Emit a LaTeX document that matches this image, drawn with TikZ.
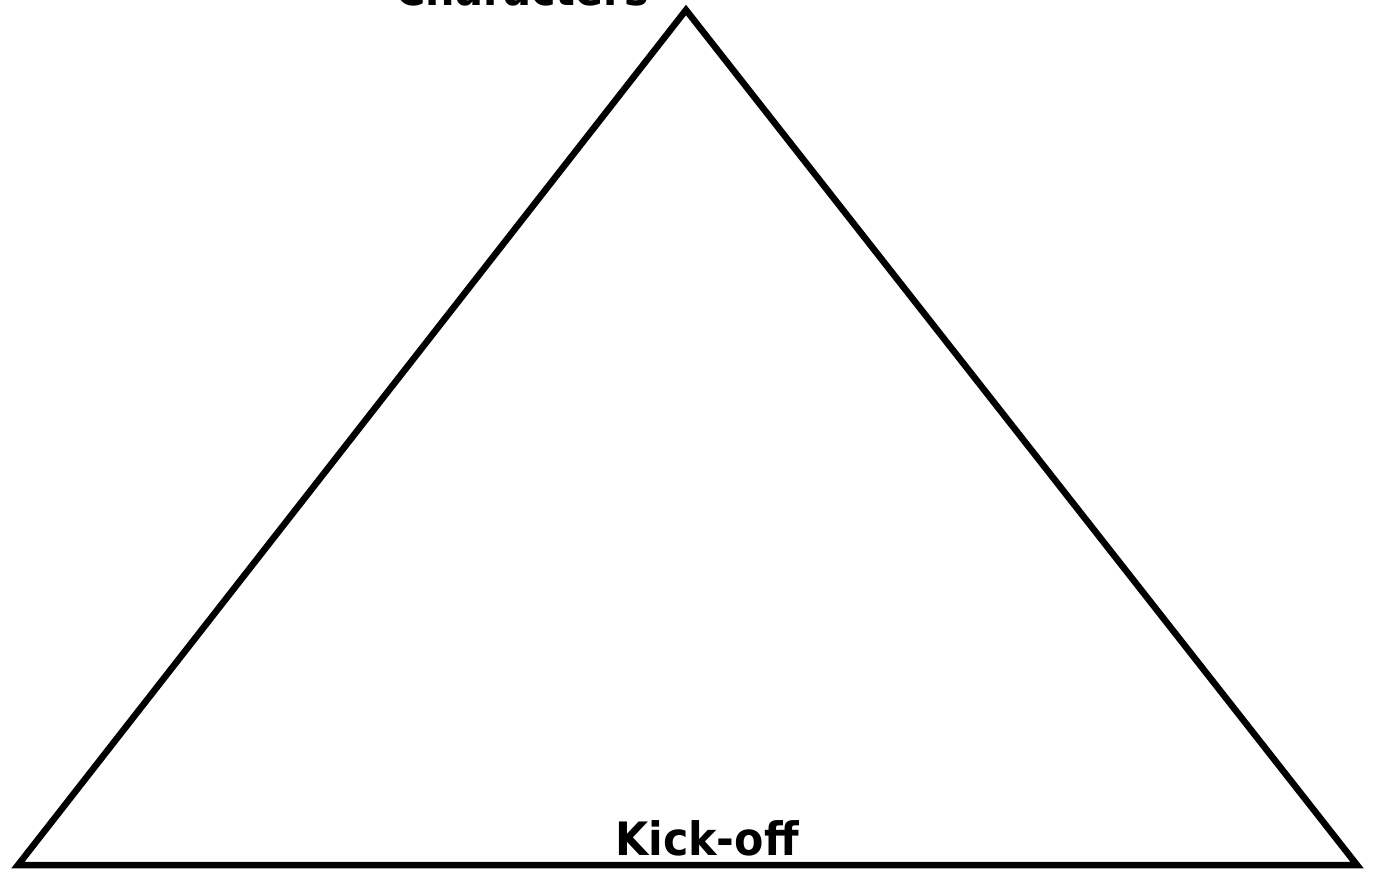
\documentclass[tikz,border=0pt]{standalone}
\usepackage{fontspec}
\setmainfont{DejaVu Sans}
\tikzset{
  edge/.style={draw=black, line width=6.5pt, line join=miter},
  lbl/.style={font=\fontsize{46}{50}\selectfont\bfseries, inner sep=0pt, anchor=base}
}
\begin{document}
\begin{tikzpicture}[x=1pt,y=-1pt]
\useasboundingbox (0,0) rectangle (1375,871);
\fill[white] (0,0) rectangle (1375,871);
\coordinate (L) at (18,865);
\coordinate (T) at (686,10);
\coordinate (R) at (1357,865);
\draw[edge] (L) -- (T) -- (R) -- cycle;
\node[lbl, xscale=0.9] (top) at (522,5) {Characters};
\node[lbl, xscale=0.93] (bot) at (707,855) {Kick-off};
\end{tikzpicture}
\end{document}
